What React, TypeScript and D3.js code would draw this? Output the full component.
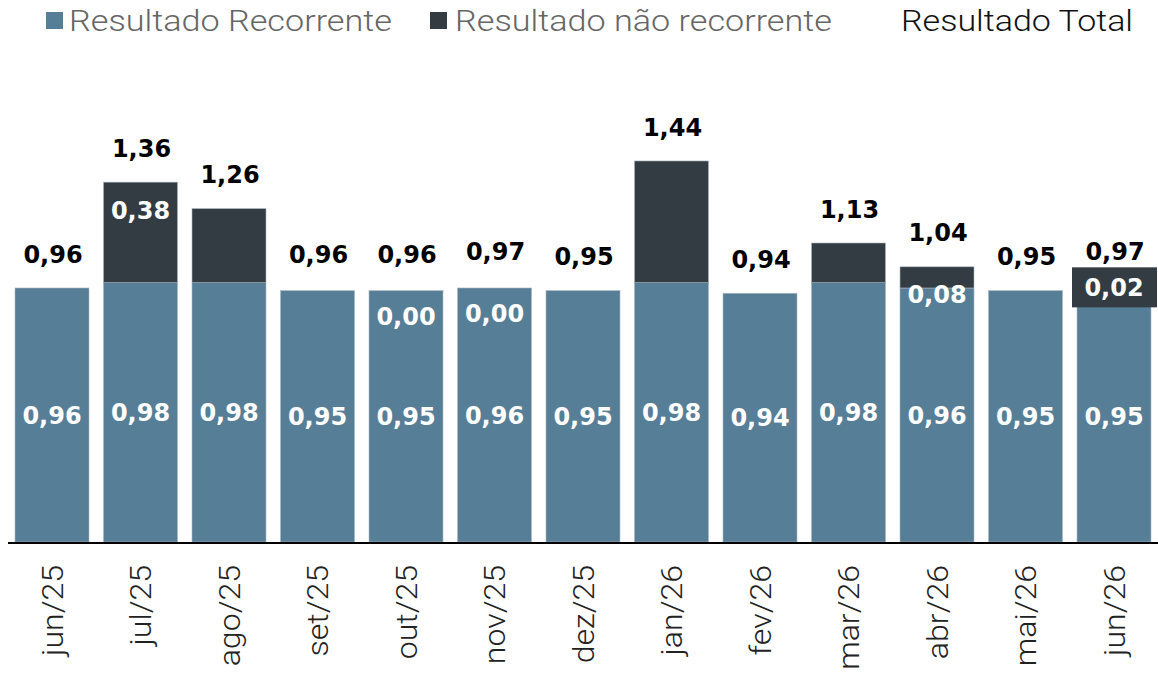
import React from "react";
import * as d3 from "d3";

const categories = ["jun/25","jul/25","ago/25","set/25","out/25","nov/25","dez/25","jan/26","fev/26","mar/26","abr/26","mai/26","jun/26"];
const recurrent = [0.96,0.98,0.98,0.95,0.95,0.96,0.95,0.98,0.94,0.98,0.96,0.95,0.95];
const nonRecurrent = [0.00,0.38,0.28,0.00,0.00,0.00,0.00,0.46,0.00,0.15,0.08,0.00,0.02];
const totals = [0.96,1.36,1.26,0.96,0.96,0.97,0.95,1.44,0.94,1.13,1.04,0.95,0.97];
// how the non-recurrent value label is shown: none, inside, boxed
const nonRecLabelMode = ["none","inside","none","none","inside","inside","none","none","none","none","inside","none","boxed"];
const legendItems = ["Resultado Recorrente","Resultado não recorrente","Resultado Total"];

const W = 1158, H = 675;
const C_REC = "#577e97";
const C_NON = "#323c42";

const fmt = (v: number) => v.toFixed(2).replace(".", ",");

export default function App() {
  const x = d3.scaleBand<string>().domain(categories).range([7.75, 1158.25]).paddingInner(0.164).paddingOuter(0.082);
  const y = d3.scaleLinear().domain([0, 2]).range([542, 12.8]);
  const bw = x.bandwidth();
  const labelFont = "'DejaVu Sans', sans-serif";
  const textFont = "Roboto, sans-serif";

  return (
    <svg width={W} height={H} style={{ position: "absolute", left: 0, top: 0, background: "#fff" }}>
      {/* legend */}
      <rect x={46} y={12} width={17} height={17} fill={C_REC} />
      <text x={69} y={31} fontFamily={textFont} fontWeight={300} fontSize={30} fill="#666" textLength={323} lengthAdjust="spacingAndGlyphs">{legendItems[0]}</text>
      <rect x={430} y={12} width={17} height={17} fill={C_NON} />
      <text x={455} y={31} fontFamily={textFont} fontWeight={300} fontSize={30} fill="#666" textLength={377} lengthAdjust="spacingAndGlyphs">{legendItems[1]}</text>
      <text x={901} y={31} fontFamily={textFont} fontWeight={300} fontSize={30} fill="#111" textLength={232} lengthAdjust="spacingAndGlyphs">{legendItems[2]}</text>

      {categories.map((c, i) => {
        const x0 = x(c)!;
        const cx = x0 + bw / 2;
        const rTop = y(recurrent[i]);
        const nTop = y(recurrent[i] + nonRecurrent[i]);
        const tTop = y(totals[i]);
        const mode = nonRecLabelMode[i];
        return (
          <g key={c}>
            <rect x={x0} y={rTop} width={bw} height={y(0) - rTop} fill={C_REC} stroke="#a9b6be" strokeWidth={0.6} />
            {nonRecurrent[i] > 0 && (
              <rect x={x0} y={nTop} width={bw} height={rTop - nTop} fill={C_NON} stroke="#a9b6be" strokeWidth={0.6} />
            )}
            <text x={cx} y={(rTop + y(0)) / 2} dy="0.36em" textAnchor="middle" fontFamily={labelFont} fontWeight="bold" fontSize={24} fill="#fff">{fmt(recurrent[i])}</text>
            {mode === "inside" && (
              <text x={cx} y={tTop + 28} dy="0.36em" textAnchor="middle" fontFamily={labelFont} fontWeight="bold" fontSize={24} fill="#fff">{fmt(nonRecurrent[i])}</text>
            )}
            {mode === "boxed" && (
              <g>
                <rect x={cx - 42} y={tTop - 18} width={85} height={40} fill={C_NON} />
                <text x={cx} y={tTop + 2} dy="0.36em" textAnchor="middle" fontFamily={labelFont} fontWeight="bold" fontSize={24} fill="#fff">{fmt(nonRecurrent[i])}</text>
              </g>
            )}
            <text x={cx + 1} y={tTop - 34} dy="0.36em" textAnchor="middle" fontFamily={labelFont} fontWeight="bold" fontSize={24} fill="#000">{fmt(totals[i])}</text>
            <text transform={`translate(${cx},565) rotate(-90) scale(1.07,1)`} dy="0.36em" textAnchor="end" fontFamily={textFont} fontWeight={300} fontSize={30} fill="#222">{c}</text>
          </g>
        );
      })}
      <line x1={8} x2={1158} y1={543} y2={543} stroke="#000" strokeWidth={2} />
    </svg>
  );
}
